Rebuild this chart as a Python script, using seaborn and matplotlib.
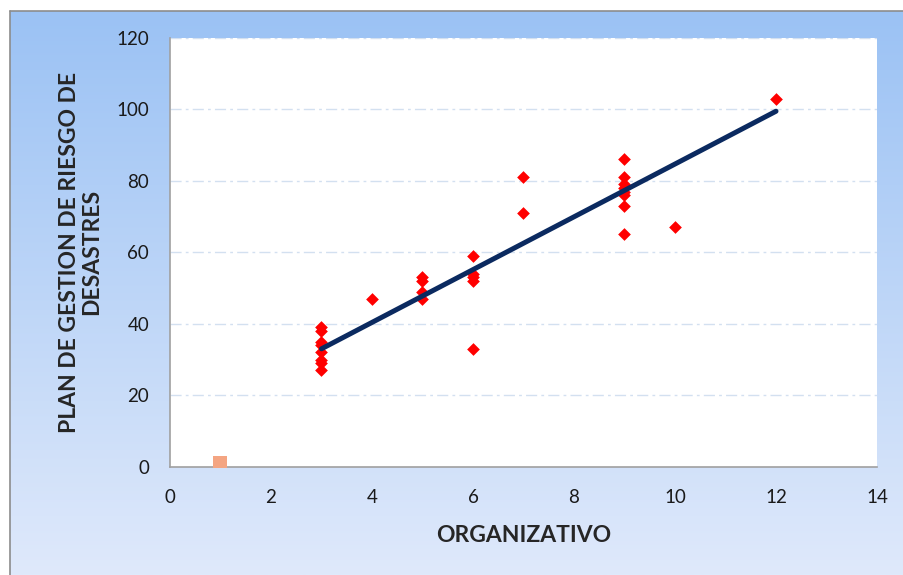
import numpy as np
import pandas as pd
import matplotlib.pyplot as plt
from matplotlib.lines import Line2D
import seaborn as sns

# Data
organizativo = [3, 3, 3, 3, 3, 3, 3, 3,
                4,
                5, 5, 5, 5,
                6, 6, 6, 6, 6,
                7, 7,
                9, 9, 9, 9, 9, 9, 9, 9,
                10,
                12]
plan_gestion = [39, 38, 35, 34, 32, 30, 29, 27,
                47,
                53, 52, 49, 47,
                59, 54, 53, 52, 33,
                81, 71,
                86, 81, 79, 78, 77, 76, 73, 65,
                67,
                103]

# second series (single square marker)
extra_x = [1]
extra_y = [1]

# linear trend line as drawn
trend_x = [3, 12]
trend_y = [33, 99.5]

x_ticks = [0, 2, 4, 6, 8, 10, 12, 14]
y_ticks = [0, 20, 40, 60, 80, 100, 120]

df = pd.DataFrame({"ORGANIZATIVO": organizativo, "PLAN": plan_gestion})

sns.set_style("white")
plt.rcParams['font.family'] = ['Lato', 'DejaVu Sans']

W, H = 904, 575
fig = plt.figure(figsize=(W / 100, H / 100), dpi=100)
fig.patch.set_facecolor("white")

# blue gradient panel behind the chart
bg = fig.add_axes([10 / W, 0, 1 - 10 / W, (H - 11) / H])
grad = np.linspace(0, 1, 256).reshape(-1, 1)
cmap = sns.blend_palette(["#9bc2f4", "#dfe9fb"], as_cmap=True)
bg.imshow(grad, aspect="auto", cmap=cmap, extent=[0, 1, 0, 1])
bg.axis("off")
fig.add_artist(Line2D([10 / W, 10 / W], [0, (H - 11) / H], transform=fig.transFigure,
                      color="#8c8c8c", lw=1.2))
fig.add_artist(Line2D([10 / W, 1], [(H - 11) / H, (H - 11) / H], transform=fig.transFigure,
                      color="#8c8c8c", lw=1.2))

ax = fig.add_axes([170 / W, (H - 466.7) / H, (877 - 170) / W, (466.7 - 38) / H])
ax.set_facecolor("white")

for yv in y_ticks[1:]:
    ax.axhline(yv, color="#d3e0f0", lw=1, linestyle=(0, (8, 3, 2, 3)), zorder=0)

sns.scatterplot(data=df, x="ORGANIZATIVO", y="PLAN", marker="D", s=42,
                color="#ff0000", linewidth=0, ax=ax, zorder=3)
sns.scatterplot(x=extra_x, y=extra_y, marker="s", s=110, color="#f4a582",
                linewidth=0, ax=ax, zorder=3)
sns.lineplot(x=trend_x, y=trend_y, color="#0b2a60", lw=3.6, ax=ax, zorder=4)

ax.set_xlim(0, 14)
ax.set_ylim(0, 120)
ax.set_xticks(x_ticks)
ax.set_yticks(y_ticks)
for s in ["top", "right"]:
    ax.spines[s].set_visible(False)
for s in ["left", "bottom"]:
    ax.spines[s].set_color("#a0a0a0")
    ax.spines[s].set_linewidth(1.2)
ax.tick_params(axis="both", direction="out", length=4, width=1, color="#a0a0a0",
               labelsize=13.5, labelcolor="#1a1a1a")
ax.tick_params(axis="y", pad=11)
ax.tick_params(axis="x", pad=12)

ax.set_xlabel("ORGANIZATIVO", fontsize=16.5, fontweight="bold", labelpad=14)
ax.set_ylabel("PLAN DE GESTION DE RIESGO DE\nDESASTRES", fontsize=16.5,
              fontweight="bold", labelpad=10, linespacing=1.1)

fig.savefig("out.png", dpi=100)
